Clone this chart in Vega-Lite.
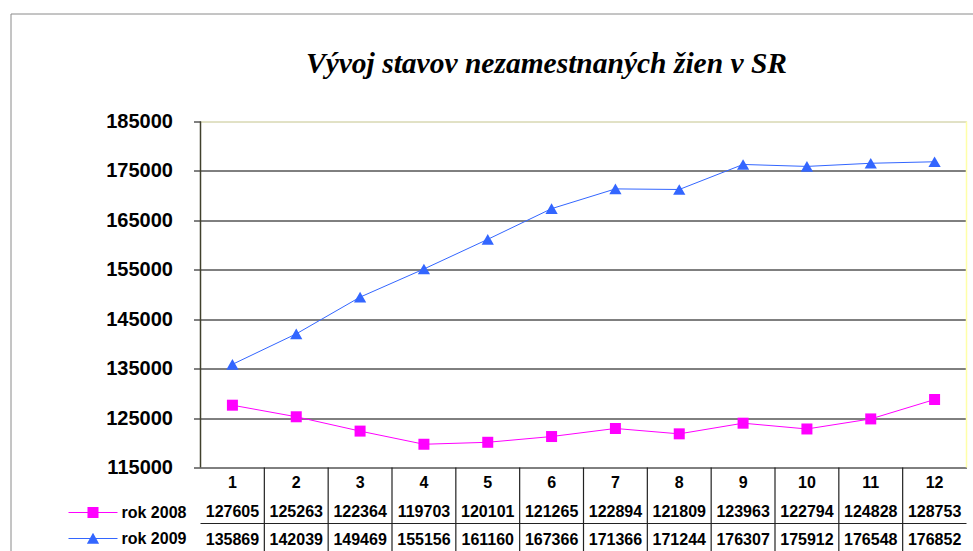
{
  "$schema": "https://vega.github.io/schema/vega-lite/v6.json",
  "background": "white",
  "padding": {"left": 9.5, "top": 12.5, "right": 0, "bottom": 0},
  "spacing": 0,
  "bounds": "flush",
  "datasets": {
    "main": [
      {"m": 1, "series": "rok 2008", "value": 127605},
      {"m": 2, "series": "rok 2008", "value": 125263},
      {"m": 3, "series": "rok 2008", "value": 122364},
      {"m": 4, "series": "rok 2008", "value": 119703},
      {"m": 5, "series": "rok 2008", "value": 120101},
      {"m": 6, "series": "rok 2008", "value": 121265},
      {"m": 7, "series": "rok 2008", "value": 122894},
      {"m": 8, "series": "rok 2008", "value": 121809},
      {"m": 9, "series": "rok 2008", "value": 123963},
      {"m": 10, "series": "rok 2008", "value": 122794},
      {"m": 11, "series": "rok 2008", "value": 124828},
      {"m": 12, "series": "rok 2008", "value": 128753},
      {"m": 1, "series": "rok 2009", "value": 135869},
      {"m": 2, "series": "rok 2009", "value": 142039},
      {"m": 3, "series": "rok 2009", "value": 149469},
      {"m": 4, "series": "rok 2009", "value": 155156},
      {"m": 5, "series": "rok 2009", "value": 161160},
      {"m": 6, "series": "rok 2009", "value": 167366},
      {"m": 7, "series": "rok 2009", "value": 171366},
      {"m": 8, "series": "rok 2009", "value": 171244},
      {"m": 9, "series": "rok 2009", "value": 176307},
      {"m": 10, "series": "rok 2009", "value": 175912},
      {"m": 11, "series": "rok 2009", "value": 176548},
      {"m": 12, "series": "rok 2009", "value": 176852}
    ],
    "months": [
      {"m": 1, "row": "h"}, {"m": 2, "row": "h"}, {"m": 3, "row": "h"}, {"m": 4, "row": "h"},
      {"m": 5, "row": "h"}, {"m": 6, "row": "h"}, {"m": 7, "row": "h"}, {"m": 8, "row": "h"},
      {"m": 9, "row": "h"}, {"m": 10, "row": "h"}, {"m": 11, "row": "h"}, {"m": 12, "row": "h"}
    ],
    "seps": [
      {"m": 2}, {"m": 3}, {"m": 4}, {"m": 5}, {"m": 6}, {"m": 7},
      {"m": 8}, {"m": 9}, {"m": 10}, {"m": 11}, {"m": 12}
    ],
    "hline": [{"row": "rok 2009"}],
    "frameLeft": [{"m": 1, "lo": 115000, "hi": 185000}],
    "frameRight": [{"m": 12, "lo": 115000, "hi": 185000}]
  },
  "resolve": {
    "scale": {"x": "independent", "y": "independent", "color": "independent", "shape": "independent", "size": "independent"},
    "axis": {"x": "independent", "y": "independent"},
    "legend": {"color": "independent", "shape": "independent", "size": "independent"}
  },
  "vconcat": [
    {
      "width": 766,
      "height": 454,
      "view": {"stroke": null},
      "title": {
        "text": "Vývoj stavov nezamestnaných žien v SR",
        "font": "Liberation Serif",
        "fontSize": 29.5,
        "fontStyle": "italic",
        "fontWeight": "bold",
        "color": "#000000",
        "anchor": "middle",
        "dx": -37,
        "dy": 89.5,
        "baseline": "alphabetic",
        "offset": 0
      },
      "resolve": {"axis": {"y": "independent"}},
      "layer": [
        {
          "data": {"name": "frameLeft"},
          "mark": {"type": "rule", "color": "#40402c", "strokeWidth": 1.5},
          "encoding": {
            "x": {"field": "m", "type": "ordinal", "bandPosition": 0, "scale": {"type": "band", "domain": [1,2,3,4,5,6,7,8,9,10,11,12], "paddingInner": 0, "paddingOuter": 0}, "axis": null},
            "y": {
              "field": "lo",
              "type": "quantitative",
              "scale": {"domain": [115000, 206849.71], "nice": false, "zero": false},
              "axis": {
                "orient": "right",
                "offset": -956,
                "values": [206849.71],
                "title": null,
                "labels": false,
                "grid": false,
                "ticks": true,
                "tickSize": 963,
                "tickColor": "#8a8a8a",
                "tickWidth": 1,
                "domain": true,
                "domainColor": "#8a8a8a",
                "domainWidth": 1
              }
            },
            "y2": {"field": "hi"}
          }
        },
        {
          "data": {"name": "frameRight"},
          "mark": {"type": "rule", "color": "#FFFFA8", "strokeWidth": 1.5},
          "encoding": {
            "x": {"field": "m", "type": "ordinal", "bandPosition": 1, "axis": null},
            "y": {"field": "lo", "type": "quantitative", "axis": null},
            "y2": {"field": "hi"}
          }
        },
        {
          "data": {"name": "main"},
          "mark": {"type": "line", "strokeWidth": 1},
          "encoding": {
            "x": {"field": "m", "type": "ordinal", "bandPosition": 0.5, "axis": null},
            "y": {
              "field": "value",
              "type": "quantitative",
              "axis": {
                "values": [115000, 125000, 135000, 145000, 155000, 165000, 175000, 185000],
                "title": null,
                "format": "d",
                "labelFont": "Liberation Sans",
                "labelFontWeight": "bold",
                "labelFontSize": 20,
                "labelColor": "#000000",
                "labelPadding": 21,
                "tickSize": 7,
                "tickColor": "#000000",
                "tickWidth": 1,
                "domain": false,
                "grid": true,
                "gridColor": {"condition": {"test": "datum.value === 185000", "value": "#C4C48C"}, "value": "#000000"},
                "gridWidth": 1,
                "gridOpacity": 1
              }
            },
            "color": {
              "field": "series",
              "type": "nominal",
              "scale": {"domain": ["rok 2008", "rok 2009"], "range": ["#FF00FF", "#3366FF"]},
              "legend": null
            }
          }
        },
        {
          "data": {"name": "main"},
          "mark": {"type": "point", "filled": true, "opacity": 1},
          "encoding": {
            "x": {"field": "m", "type": "ordinal", "bandPosition": 0.5, "axis": null},
            "y": {"field": "value", "type": "quantitative", "axis": null},
            "color": {"field": "series", "type": "nominal", "legend": null},
            "shape": {"field": "series", "type": "nominal", "scale": {"domain": ["rok 2008", "rok 2009"], "range": ["square", "triangle-up"]}, "legend": null},
            "size": {"field": "series", "type": "nominal", "scale": {"domain": ["rok 2008", "rok 2009"], "range": [121, 150]}, "legend": null}
          }
        }
      ]
    },
    {
      "width": 766,
      "height": 84,
      "view": {"stroke": null},
      "resolve": {"axis": {"y": "independent"}},
      "layer": [
        {
          "data": {"name": "seps"},
          "mark": {"type": "rule", "color": "#222222", "strokeWidth": 1.2},
          "encoding": {
            "x": {"field": "m", "type": "ordinal", "bandPosition": 0, "scale": {"type": "band", "domain": [1,2,3,4,5,6,7,8,9,10,11,12], "paddingInner": 0, "paddingOuter": 0}, "axis": null}
          }
        },
        {
          "data": {"name": "hline"},
          "mark": {"type": "rule", "color": "#222222", "strokeWidth": 1},
          "encoding": {
            "y": {
              "field": "row",
              "type": "nominal",
              "bandPosition": 0,
              "scale": {"type": "band", "domain": ["h", "rok 2008", "rok 2009"], "paddingInner": 0, "paddingOuter": 0},
              "axis": {
                "title": null,
                "labels": false,
                "domain": false,
                "grid": false,
                "ticks": true,
                "tickBand": "extent",
                "tickSize": 136,
                "tickWidth": 1,
                "tickColor": {"condition": {"test": "datum.value === 'rok 2009'", "value": "#222222"}, "value": "transparent"}
              }
            }
          }
        },
        {
          "data": {"name": "months"},
          "mark": {"type": "text", "font": "Liberation Sans", "fontWeight": "bold", "fontSize": 16, "color": "#000000", "align": "center", "baseline": "middle", "dy": 1},
          "encoding": {
            "x": {"field": "m", "type": "ordinal", "axis": null},
            "y": {
              "field": "row",
              "type": "nominal",
              "axis": {
                "orient": "right",
                "offset": -956,
                "title": null,
                "labels": false,
                "ticks": false,
                "grid": false,
                "domain": true,
                "domainColor": "#8a8a8a",
                "domainWidth": 1
              }
            },
            "text": {"field": "m", "type": "ordinal"}
          }
        },
        {
          "data": {"name": "main"},
          "mark": {"type": "text", "font": "Liberation Sans", "fontWeight": "bold", "fontSize": 16, "color": "#000000", "align": "center", "baseline": "middle", "dy": 2},
          "encoding": {
            "x": {"field": "m", "type": "ordinal", "axis": null},
            "y": {"field": "series", "type": "nominal", "axis": null},
            "text": {"field": "value", "type": "quantitative", "format": "d"}
          }
        },
        {
          "data": {"name": "main"},
          "transform": [{"filter": "datum.m > 100"}],
          "mark": {"type": "point", "filled": true, "opacity": 1},
          "encoding": {
            "color": {
              "field": "series",
              "type": "nominal",
              "scale": {"domain": ["rok 2008", "rok 2009"], "range": ["#FF00FF", "#3366FF"]},
              "legend": {
                "orient": "none",
                "legendX": -125.5,
                "legendY": 27,
                "title": null,
                "padding": 0,
                "rowPadding": 0,
                "symbolSize": 1296,
                "symbolStrokeWidth": 0,
                "symbolOpacity": 1,
                "labelOffset": 10.5,
                "labelFont": "Liberation Sans",
                "labelFontWeight": "bold",
                "labelFontSize": 16,
                "labelColor": "#000000"
              }
            },
            "shape": {
              "field": "series",
              "type": "nominal",
              "scale": {"domain": ["rok 2008", "rok 2009"], "range": ["M-1.361,-0.028H1.361V0.028H-1.361ZM-0.306,-0.306H0.306V0.306H-0.306Z", "M-1.361,-0.028H1.361V0.028H-1.361ZM0,-0.32L0.34,0.29H-0.34Z"]},
              "legend": {
                "orient": "none",
                "legendX": -125.5,
                "legendY": 27,
                "title": null,
                "padding": 0,
                "rowPadding": 0,
                "symbolSize": 1296,
                "symbolStrokeWidth": 0,
                "symbolOpacity": 1,
                "labelOffset": 10.5,
                "labelFont": "Liberation Sans",
                "labelFontWeight": "bold",
                "labelFontSize": 16,
                "labelColor": "#000000"
              }
            },
            "size": {"value": 1296}
          }
        }
      ]
    }
  ]
}
